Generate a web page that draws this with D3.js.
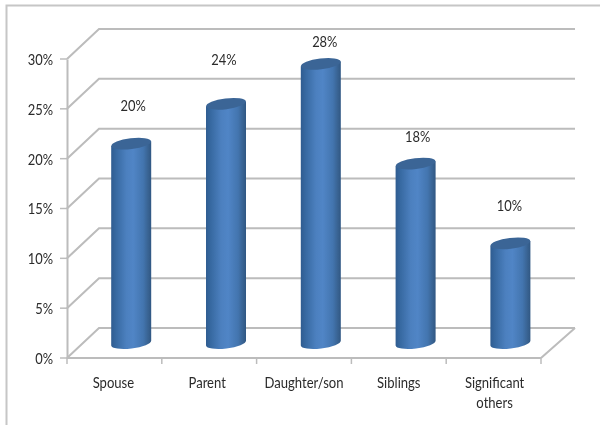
<!DOCTYPE html>
<html>
<head>
<meta charset="utf-8">
<script src="https://cdn.jsdelivr.net/npm/d3@7"></script>
<style>
html,body{margin:0;padding:0;background:#fff;overflow:hidden}
svg{display:block;filter:blur(0.35px)}
text{font-family:Lato,"Open Sans",sans-serif;font-size:15px;fill:#2b2b2b}
</style>
</head>
<body>
<div id="chart"></div>
<script>
const categories = ["Spouse","Parent","Daughter/son","Siblings","Significant others"];
const values = [20,24,28,18,10];
const yTicks = [0,5,10,15,20,25,30];
const labelOffsets = [[2,-38],[-2,-44],[4,-22],[2,-27],[-1,-38]];
const categoryNudges = [-1,-2,0,0,1];

const W=600,H=425, depthX=32, depthY=-30;
const svg=d3.select("#chart").append("svg").attr("width",W).attr("height",H);
const x=d3.scaleBand().domain(categories).range([67,541]).paddingInner(0).paddingOuter(0);
const y=d3.scaleLinear().domain([0,30]).range([358,59]);
const grid="#bcbcbc";

const defs=svg.append("defs");
const g=defs.append("linearGradient").attr("id","cyl").attr("x1","0").attr("x2","1").attr("y1","0").attr("y2","0");
[[0,"#2f5c90"],[0.12,"#3769a1"],[0.38,"#4c80bf"],[0.55,"#5085c6"],[0.8,"#4375af"],[0.93,"#386291"],[1,"#305783"]]
 .forEach(([o,c])=>g.append("stop").attr("offset",o).attr("stop-color",c));

// frame
svg.append("path").attr("d","M600,5.5H6.5V425").attr("fill","none").attr("stroke","#c6c6c6").attr("stroke-width",2);

// walls
const wall=svg.append("g").attr("fill","none").attr("stroke",grid).attr("stroke-width",2);
yTicks.forEach(t=>{
  const yy=y(t);
  wall.append("path").attr("d",`M67,${yy}L${67+depthX},${yy+depthY}H${541+depthX+2}`);
  wall.append("line").attr("x1",60).attr("x2",67).attr("y1",yy).attr("y2",yy).attr("stroke-width",1.5);
});
// floor front edge
wall.append("path").attr("d",`M${541+depthX+2},${y(0)+depthY}L541,${y(0)}`);

// axes
const axY=d3.axisLeft(y).tickValues(yTicks).tickSize(0).tickPadding(14).tickFormat(d=>d+"%");
const gy=svg.append("g").attr("transform","translate(67,0)").call(axY);
gy.select(".domain").attr("stroke",grid).attr("stroke-width",2);
gy.selectAll("text").attr("dy","0.36em").style("font-size","15px").style("font-family",null);

const gxLine=svg.append("g").attr("stroke",grid).attr("stroke-width",1.5);
gxLine.append("line").attr("x1",67).attr("x2",541).attr("y1",y(0)).attr("y2",y(0)).attr("stroke-width",2);
const edges=categories.map(c=>x(c)).concat([541]);
edges.forEach(e=>gxLine.append("line").attr("x1",e).attr("x2",e).attr("y1",y(0)).attr("y2",y(0)+6));

// bars
const rx=20, ry=5.4, tilt=-7, dy=2.4;
const cx=c=>x(c)+x.bandwidth()/2+depthX/2+0.8;
const shift=depthY/2;
const bars=svg.append("g").selectAll("g").data(categories).join("g");
bars.append("path")
 .attr("fill","url(#cyl)")
 .attr("d",(c,i)=>{
   const t=y(values[i])+shift, b=y(0)+shift, m=cx(c);
   return `M${m-rx},${t+dy}L${m-rx},${b+dy}A${rx},${ry} ${tilt} 0 0 ${m+rx},${b-dy}L${m+rx},${t-dy}Z`;
 });
bars.append("ellipse")
 .attr("cx",c=>cx(c))
 .attr("cy",(c,i)=>y(values[i])+shift)
 .attr("rx",rx).attr("ry",ry)
 .attr("transform",(c,i)=>`rotate(${tilt} ${cx(c)} ${y(values[i])+shift})`)
 .attr("fill","#3b6596");

// value labels
svg.append("g").selectAll("text").data(values).join("text")
 .attr("text-anchor","middle")
 .attr("x",(v,i)=>cx(categories[i])+labelOffsets[i][0])
 .attr("y",(v,i)=>y(v)+shift+labelOffsets[i][1])
 .attr("dy","0.36em")
 .text(v=>v+"%");

// category labels
const cat=svg.append("g").selectAll("text").data(categories).join("text")
 .attr("text-anchor","middle")
 .attr("y",383);
cat.each(function(c,k){
  const s=d3.select(this), parts=c==="Significant others"?["Significant","others"]:[c];
  parts.forEach((p,i)=>s.append("tspan").attr("x",x(c)+x.bandwidth()/2+categoryNudges[k]).attr("dy",i?20:"0.36em").text(p));
});

// condense all text to the narrow look of the original face
svg.selectAll("text").each(function(){
  const el=d3.select(this), spans=el.selectAll("tspan");
  if(spans.empty()){
    el.attr("textLength",this.getComputedTextLength()*0.86).attr("lengthAdjust","spacingAndGlyphs");
  } else {
    spans.each(function(){
      d3.select(this).attr("textLength",this.getComputedTextLength()*0.87).attr("lengthAdjust","spacingAndGlyphs");
    });
  }
});
</script>
</body>
</html>
